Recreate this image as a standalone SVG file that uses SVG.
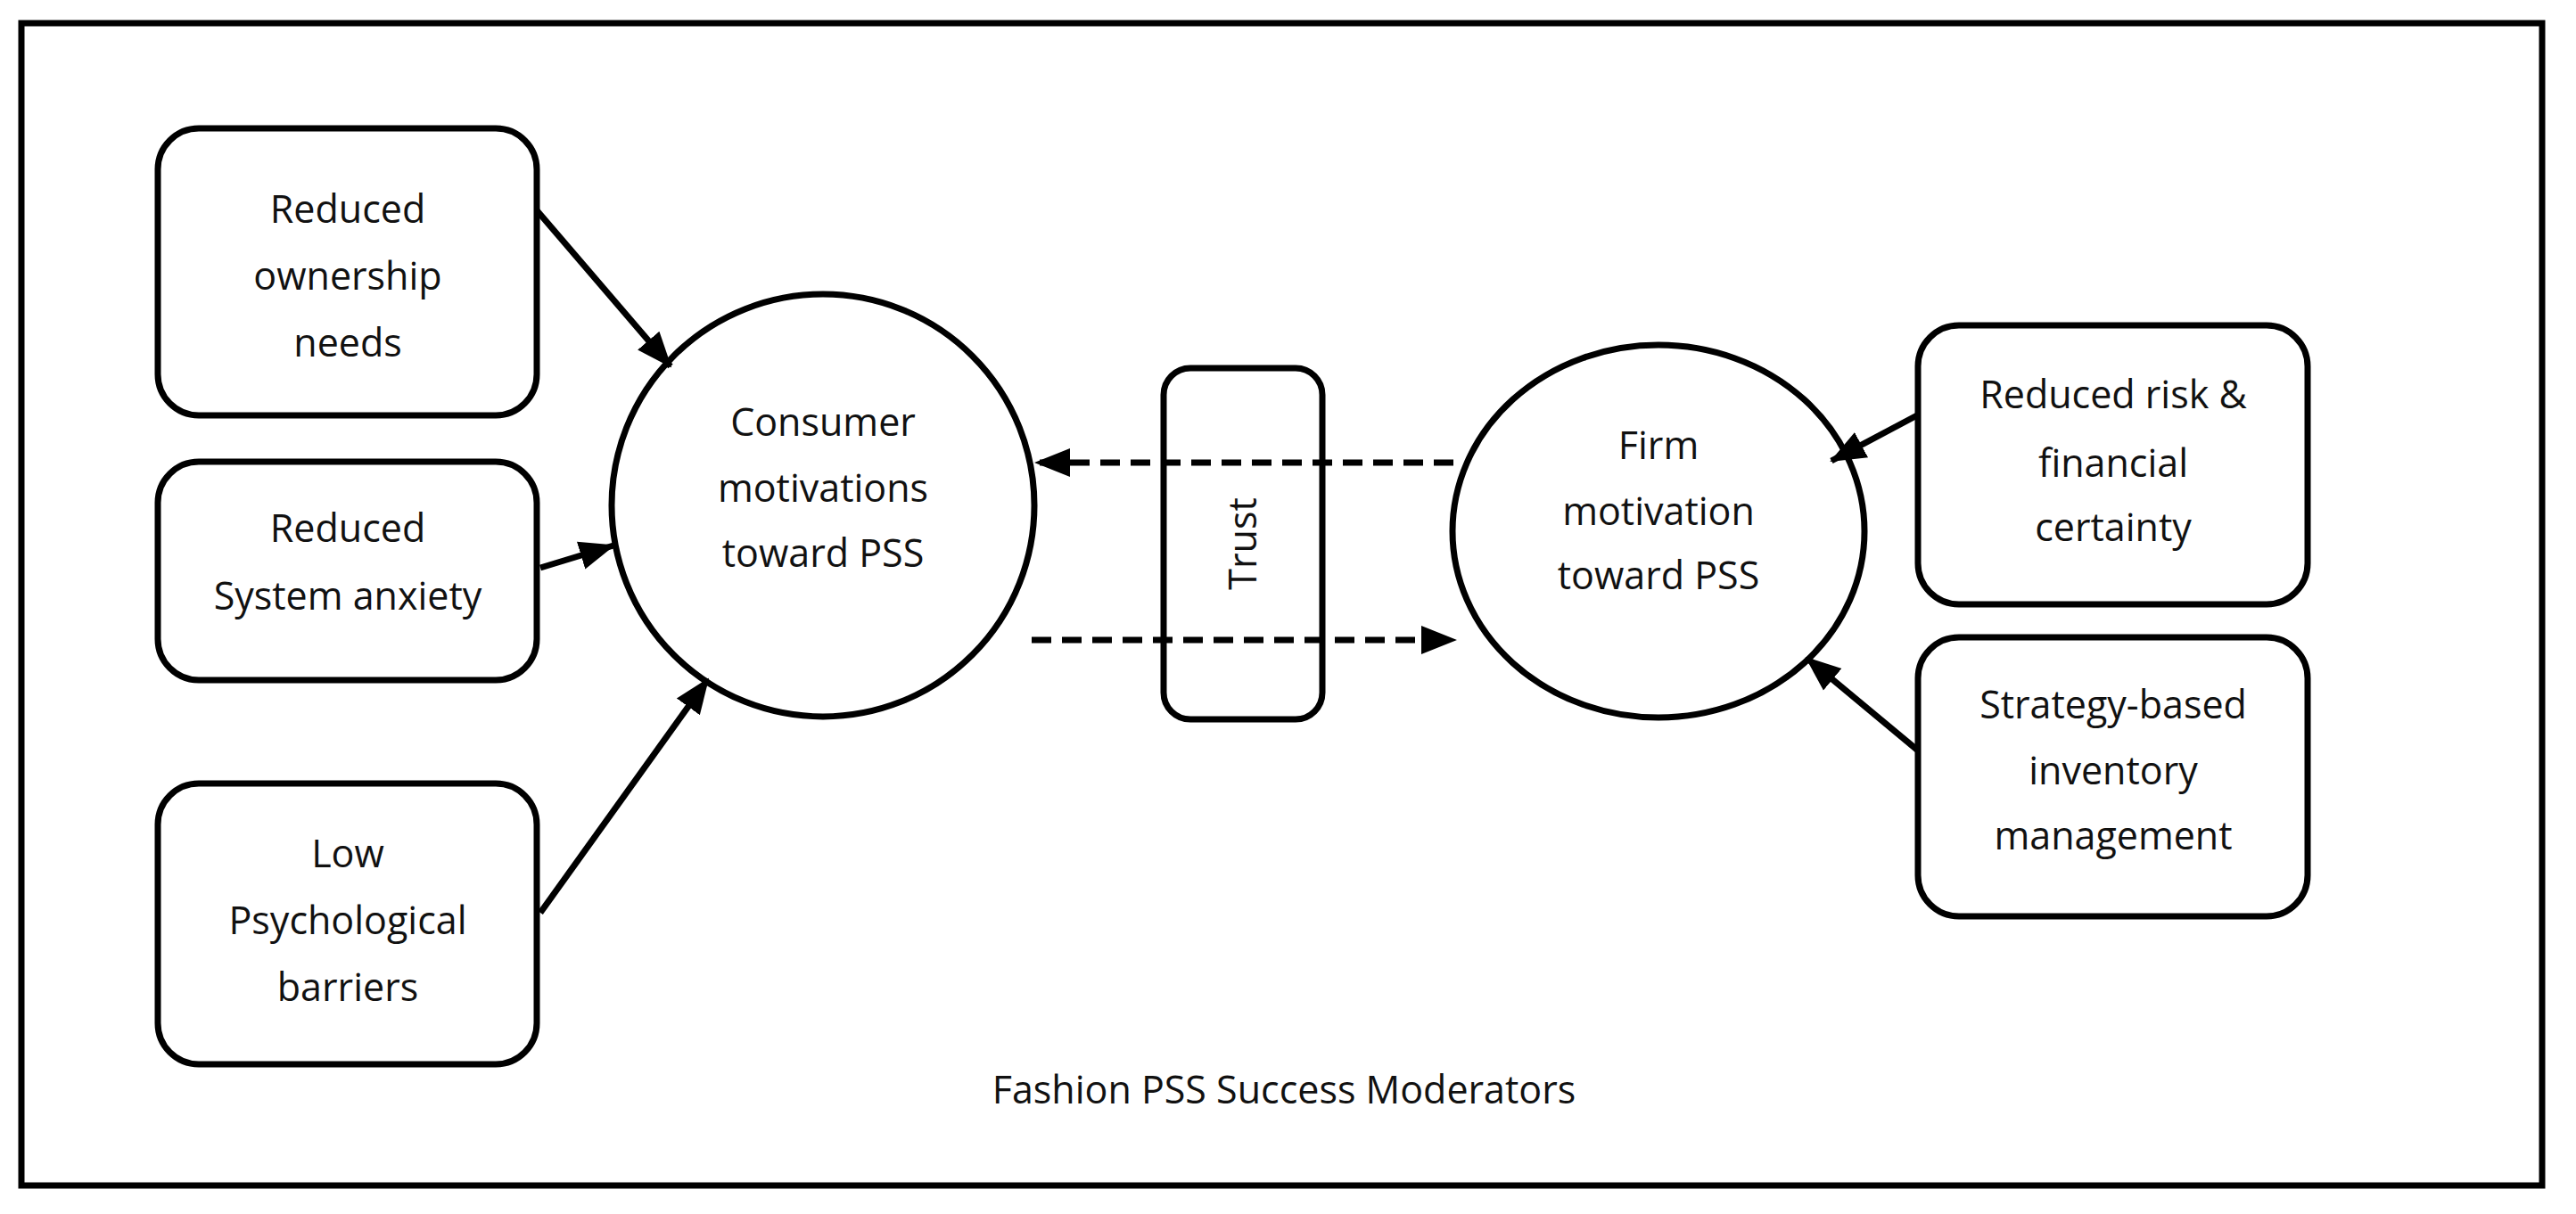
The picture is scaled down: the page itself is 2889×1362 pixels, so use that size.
<svg xmlns="http://www.w3.org/2000/svg" width="2889" height="1362" viewBox="0 0 2889 1362">
<style>
.s{fill:#fff;stroke:#000;stroke-width:7}
.t{font-family:"Open Sans","Liberation Sans",sans-serif;font-size:43px;fill:#111;text-anchor:middle}
.c{stroke:#000;stroke-width:7;fill:none}
.d{stroke-dasharray:22 12}
</style>
<defs>
<marker id="m" viewBox="0 0 40 40" refX="38" refY="20" markerWidth="40" markerHeight="40" markerUnits="userSpaceOnUse" orient="auto">
<path d="M0,4 L40,20 L0,36 z" fill="#000"/>
</marker>
</defs>
<rect x="0" y="0" width="2889" height="1362" fill="#fff"/>
<rect x="24" y="26" width="2827" height="1304" fill="none" stroke="#000" stroke-width="7"/>
<g id="b1"><rect class="s" x="177" y="144" width="425" height="322" rx="46"/>
<text class="t" x="390" y="250">Reduced</text><text class="t" x="390" y="325">ownership</text><text class="t" x="390" y="400">needs</text></g>
<g id="b2"><rect class="s" x="177" y="518" width="425" height="245" rx="46"/>
<text class="t" x="390" y="608">Reduced</text><text class="t" x="390" y="684">System anxiety</text></g>
<g id="b3"><rect class="s" x="177" y="879" width="425" height="315" rx="46"/>
<text class="t" x="390" y="973">Low</text><text class="t" x="390" y="1048">Psychological</text><text class="t" x="390" y="1123">barriers</text></g>
<g id="c1"><circle class="s" cx="923" cy="567" r="237"/>
<text class="t" x="923" y="489">Consumer</text><text class="t" x="923" y="563">motivations</text><text class="t" x="923" y="636">toward PSS</text></g>
<g id="trust"><rect class="s" x="1305" y="413" width="178" height="394" rx="30"/>
<text class="t" transform="translate(1409,610) rotate(-90)">Trust</text></g>
<g id="c2"><ellipse class="s" cx="1860" cy="596" rx="231" ry="209"/>
<text class="t" x="1860" y="515">Firm</text><text class="t" x="1860" y="589">motivation</text><text class="t" x="1860" y="661">toward PSS</text></g>
<g id="r1"><rect class="s" x="2151" y="365" width="437" height="313" rx="46"/>
<text class="t" x="2370" y="458">Reduced risk &amp;</text><text class="t" x="2370" y="535">financial</text><text class="t" x="2370" y="607">certainty</text></g>
<g id="r2"><rect class="s" x="2151" y="715" width="437" height="313" rx="46"/>
<text class="t" x="2370" y="806">Strategy-based</text><text class="t" x="2370" y="880">inventory</text><text class="t" x="2370" y="953">management</text></g>
<text class="t" x="1440" y="1238" id="caption">Fashion PSS Success Moderators</text>
<g id="connectors">
<line class="c" x1="602" y1="236" x2="752" y2="411" marker-end="url(#m)"/>
<line class="c" x1="606" y1="637" x2="688" y2="612" marker-end="url(#m)"/>
<line class="c" x1="606" y1="1024" x2="794" y2="762" marker-end="url(#m)"/>
<line class="c" x1="2150" y1="466" x2="2054" y2="517" marker-end="url(#m)"/>
<line class="c" x1="2151" y1="842" x2="2026" y2="738" marker-end="url(#m)"/>
<line class="c d" x1="1630" y1="519" x2="1162" y2="519" marker-end="url(#m)"/>
<line class="c d" x1="1157" y1="718" x2="1632" y2="718" marker-end="url(#m)"/>
</g>
</svg>
